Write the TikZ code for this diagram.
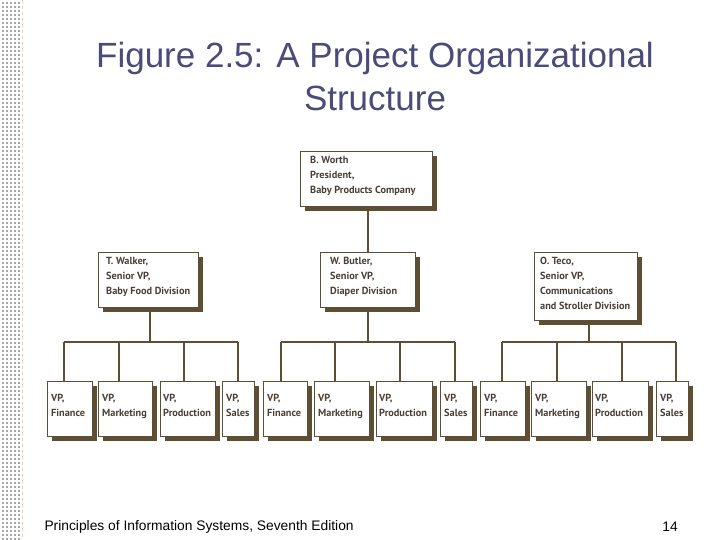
\documentclass[tikz,border=0pt]{standalone}
\usepackage{fontspec}
\setmainfont{Liberation Sans}
\newfontfamily\boxfont{PT Sans}
\begin{document}
\begin{tikzpicture}[x=1pt,y=-1pt,
  brn/.style={draw=boxbrown,line width=1.3pt},
  ob/.style={draw=boxbrown,line width=0.9pt,fill=white,anchor=north west,inner sep=0pt},
  bt/.style={anchor=north west,inner sep=0pt,font=\boxfont\bfseries\fontsize{10.3}{15}\selectfont,text=boxtext,align=left}]
\definecolor{boxbrown}{HTML}{5E4E34}
\definecolor{boxtext}{HTML}{4A4038}
\definecolor{ttl}{HTML}{4B4B7A}
\useasboundingbox (0,0) rectangle (720,540);
\fill[white] (0,0) rectangle (720,540);
\foreach \i in {0,...,134}{\foreach \j in {0,...,4}{\fill[gray!70] (2+\j*4,2+\i*4) rectangle ++(2.2,2.2);}}
\draw[orange!40,dashed] (22,0) -- (22,540);
\node[text=ttl,font=\fontsize{35}{43}\selectfont,align=center] (title) at (375,76) {Figure 2.5: A Project Organizational\\Structure};
\node[font=\fontsize{13.8}{15}\selectfont,anchor=west] (foot) at (41,527) {Principles of Information Systems, Seventh Edition};
\node[font=\fontsize{13.8}{15}\selectfont] (pg) at (670,527) {14};
\def\obox#1#2#3#4#5#6#7#8{%
  \fill[boxbrown] (#2+5,#3+5) rectangle (#4+5,#5+5);
  \node[ob,minimum width=#4-#2,minimum height=#5-#3] (#1) at (#2,#3) {};
  \node[bt] (#1t) at (#2+#8,#3+#7) {#6};}
\coordinate (busL1) at (64,342); \coordinate (busL2) at (238,342);
\coordinate (busM1) at (281,342); \coordinate (busM2) at (455,342);
\coordinate (busR1) at (502,342); \coordinate (busR2) at (676,342);
\draw[brn] (busL1)--(busL2); \draw[brn] (busM1)--(busM2); \draw[brn] (busR1)--(busR2);
\draw[brn] (368,206)--(368,252);
\draw[brn] (150,307)--(150,342);
\draw[brn] (368,307)--(368,342);
\draw[brn] (589,320)--(589,342);
\foreach \x in {64,119,184,238,281,335,400,455,502,557,622,676}{\draw[brn] (\x,342)--(\x,381);}
\obox{pres}{300}{151}{432}{206}{B. Worth\\President,\\Baby Products Company}{5}{10}
\obox{walk}{98}{252}{198}{307}{T. Walker,\\Senior VP,\\Baby Food Division}{5}{8}
\obox{butl}{320}{252}{415}{307}{W. Butler,\\Senior VP,\\Diaper Division}{5}{10}
\obox{teco}{534}{252}{637}{320}{O. Teco,\\Senior VP,\\Communications\\and Stroller Division}{5}{6}
\def\vprow#1#2#3#4#5#6#7#8#9{%
 \obox{f#1}{#2}{381}{#3}{436}{VP,\\Finance}{13}{4}
 \obox{m#1}{#4}{381}{#5}{436}{VP,\\Marketing}{13}{4}
 \obox{p#1}{#6}{381}{#7}{436}{VP,\\Production}{13}{3}
 \obox{s#1}{#8}{381}{#9}{436}{VP,\\Sales}{13}{4}}
\vprow{L}{47}{92}{98}{152}{160}{215}{222}{254}
\vprow{M}{263}{307}{314}{369}{376}{432}{440}{472}
\vprow{R}{480}{525}{531}{586}{592}{648}{656}{688}
\end{tikzpicture}
\end{document}
